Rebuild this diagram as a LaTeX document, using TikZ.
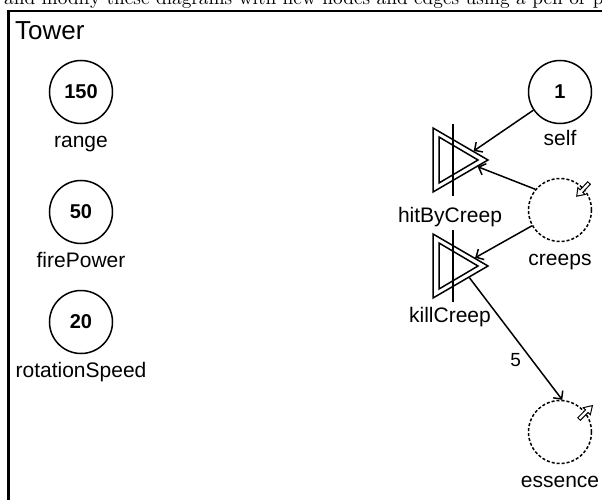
\documentclass[tikz,border=0pt]{standalone}
\usepackage{fontspec}
\setsansfont{Liberation Sans}
\usetikzlibrary{arrows.meta}
\begin{document}
\begin{tikzpicture}[x=1pt,y=-1pt,
  pool/.style={circle, draw, line width=1.5pt, minimum size=63pt, inner sep=0pt,
    font=\sffamily\bfseries\fontsize{20}{24}\selectfont},
  dpool/.style={pool, dash pattern=on 3pt off 2pt},
  lab/.style={font=\sffamily\fontsize{21}{25}\selectfont, inner sep=0pt, anchor=base},
  convline/.style={line width=1.5pt, line join=miter},
  arr/.style={line width=1.5pt, -{Straight Barb[length=6pt,width=12pt,line width=1.5pt]}},
  hollow/.style={line width=1pt, fill=white}]
\useasboundingbox (0,0) rectangle (602,500);
\clip (0,0) rectangle (602,500);
% cropped text of the page above
\node[anchor=base west, inner sep=0pt] (pagetext) at (4,4.5)
  {\scalebox{1.93}{and modify these diagrams with new nodes and edges using a pen or p}};
% frame
\draw[line width=2.5pt] (8.5,11) rectangle (640,540);
\node[anchor=base west, inner sep=0pt, font=\sffamily\fontsize{26}{30}\selectfont] (title) at (15,40) {Tower};
% left pools
\node[pool] (range) at (81,92) {150};
\node[lab] (rangel) at (81,147) {range};
\node[pool] (fire) at (81,212) {50};
\node[lab] (firel) at (81,267) {firePower};
\node[pool] (rot) at (81,322) {20};
\node[lab] (rotl) at (81,377) {rotationSpeed};
% right side
\node[pool] (self) at (560,92) {1};
\node[lab] (selfl) at (560,146) {self};
\node[dpool] (creeps) at (560,210) {};
\node[lab] (creepsl) at (560,265) {creeps};
\node[dpool] (essence) at (560,432) {};
\node[lab] (essencel) at (560,487) {essence};
% converters
\coordinate (hit) at (460.5,160);
\draw[convline] (433,128) -- (488,160) -- (433,192) -- cycle;
\draw[convline] (439,137) -- (478,160) -- (439,183) -- cycle;
\draw[convline] (453,124) -- (453,196);
\node[lab] (hitl) at (450,222) {hitByCreep};
\coordinate (kill) at (460.5,266);
\draw[convline] (433,234) -- (488,266) -- (433,298) -- cycle;
\draw[convline] (439,243) -- (478,266) -- (439,289) -- cycle;
\draw[convline] (453,230) -- (453,302);
\node[lab] (killl) at (450,322) {killCreep};
% connectors
\draw[arr, shorten >=16pt] (self) -- (hit);
\draw[arr, shorten >=18.4pt] (creeps.140) -- (hit);
\draw[arr, shorten >=16.8pt] (creeps) -- (kill);
\draw[arr, shorten <=14.5pt] (kill) -- node[pos=0.70, left=10pt, inner sep=0pt, font=\sffamily\fontsize{19}{23}\selectfont] (five) {5} (essence.86);
% hollow arrows
\begin{scope}[shift={(589,183)}, rotate=227]
\draw[hollow] (0,-1.8) -- (11,-1.8) -- (11,-5) -- (18,0) -- (11,5) -- (11,1.8) -- (0,1.8) -- cycle;
\end{scope}
\begin{scope}[shift={(579,419)}, rotate=45]
\draw[hollow] (0,-1.8) -- (11,-1.8) -- (11,-5) -- (19,0) -- (11,5) -- (11,1.8) -- (0,1.8) -- cycle;
\end{scope}
\end{tikzpicture}
\end{document}
